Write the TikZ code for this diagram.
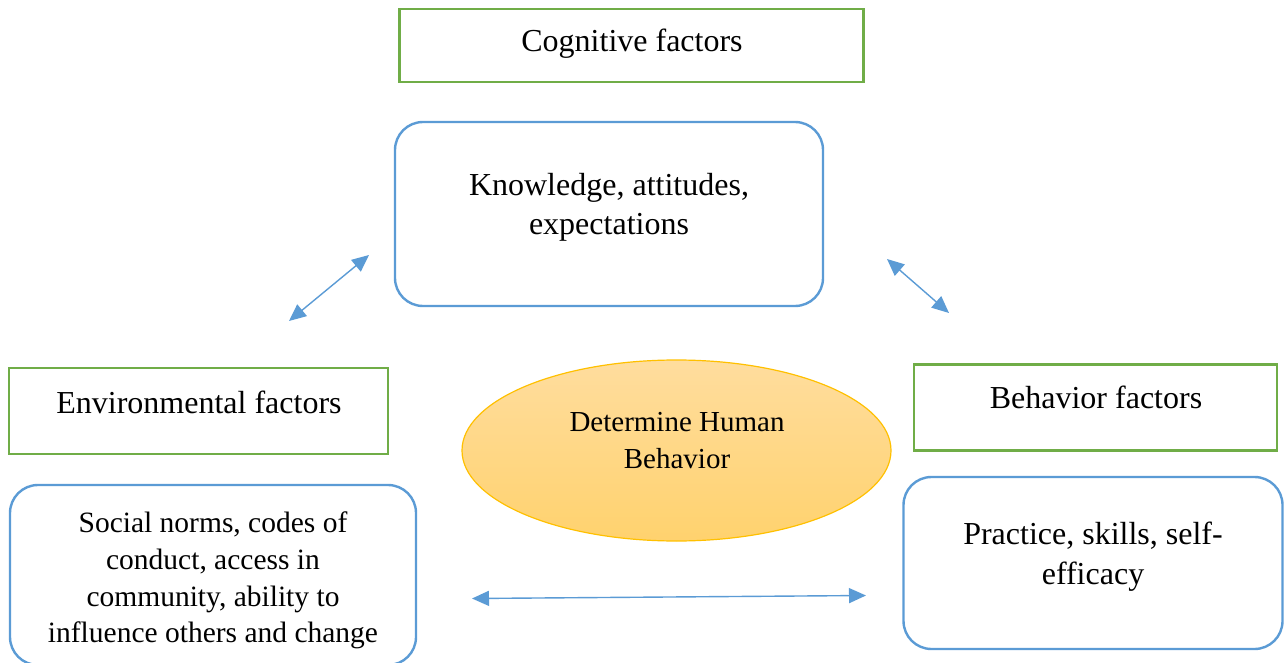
\documentclass[tikz,border=0pt]{standalone}
\usepackage{fontspec}
\setmainfont{Liberation Serif}
\usetikzlibrary{arrows.meta,shapes.geometric}
\definecolor{boxblue}{HTML}{5B9BD5}
\definecolor{boxgreen}{HTML}{70AD47}
\definecolor{goldline}{HTML}{FFC000}
\definecolor{goldtop}{HTML}{FFDD9E}
\definecolor{goldbot}{HTML}{FFD26E}
\begin{document}
\begin{tikzpicture}[x=1pt,y=-1pt,
  factorbox/.style={draw=boxgreen, line width=2.4pt, rectangle, inner sep=0pt},
  contentbox/.style={draw=boxblue, line width=2.4pt, rectangle, rounded corners=28pt, inner sep=0pt},
  txt/.style={inner sep=0pt, font=\fontsize{32}{39}\selectfont, align=center},
  link/.style={draw=boxblue, line width=1.4pt,
    {Triangle[length=17pt,width=15pt]}-{Triangle[length=17pt,width=15pt]}}
]
\useasboundingbox (0,0) rectangle (1285,663);

% green heading boxes
\node[factorbox, minimum width=464pt, minimum height=73pt] (cogbox) at (631.5,45.5) {};
\node[factorbox, minimum width=379pt, minimum height=86pt] (envbox) at (198.5,411) {};
\node[factorbox, minimum width=363pt, minimum height=86pt] (behbox) at (1095.5,407.5) {};

% blue rounded content boxes
\node[contentbox, minimum width=428pt, minimum height=184pt] (knowbox) at (609,214) {};
\node[contentbox, minimum width=406pt, minimum height=180pt] (normbox) at (213,575) {};
\node[contentbox, minimum width=379pt, minimum height=172pt] (practbox) at (1093,563) {};

% central ellipse
\node[ellipse, draw=goldline, line width=1.2pt, top color=goldtop, bottom color=goldbot,
      minimum width=429pt, minimum height=181pt, inner sep=0pt] (core) at (676.5,450.5) {};

% texts
\node[txt, anchor=base] (cogtxt) at (632,51.5) {Cognitive factors};
\node[txt, anchor=base] (envtxt) at (199,413) {Environmental factors};
\node[txt, anchor=base] (behtxt) at (1096,408) {Behavior factors};
\node[txt] (knowtxt) at (609,207) {Knowledge, attitudes,\\expectations};
\node[txt, font=\fontsize{29.5}{36.7}\selectfont] (normtxt) at (213,580.5)
  {Social norms, codes of\\conduct, access in\\community, ability to\\influence others and change};
\node[txt, font=\fontsize{32}{40}\selectfont] (practtxt) at (1093,556.5) {Practice, skills, self-\\efficacy};
\node[txt, font=\fontsize{29}{37}\selectfont] (coretxt) at (677,440.5) {Determine Human\\Behavior};

% two-headed connectors
\coordinate (l1) at (289,321);
\coordinate (l2) at (369,255);
\coordinate (r1) at (887,259);
\coordinate (r2) at (949,313);
\coordinate (h1) at (472,598.5);
\coordinate (h2) at (866,595.5);
\draw[link] (l1) -- (l2);
\draw[link] (r1) -- (r2);
\draw[link] (h1) -- (h2);
\end{tikzpicture}
\end{document}
